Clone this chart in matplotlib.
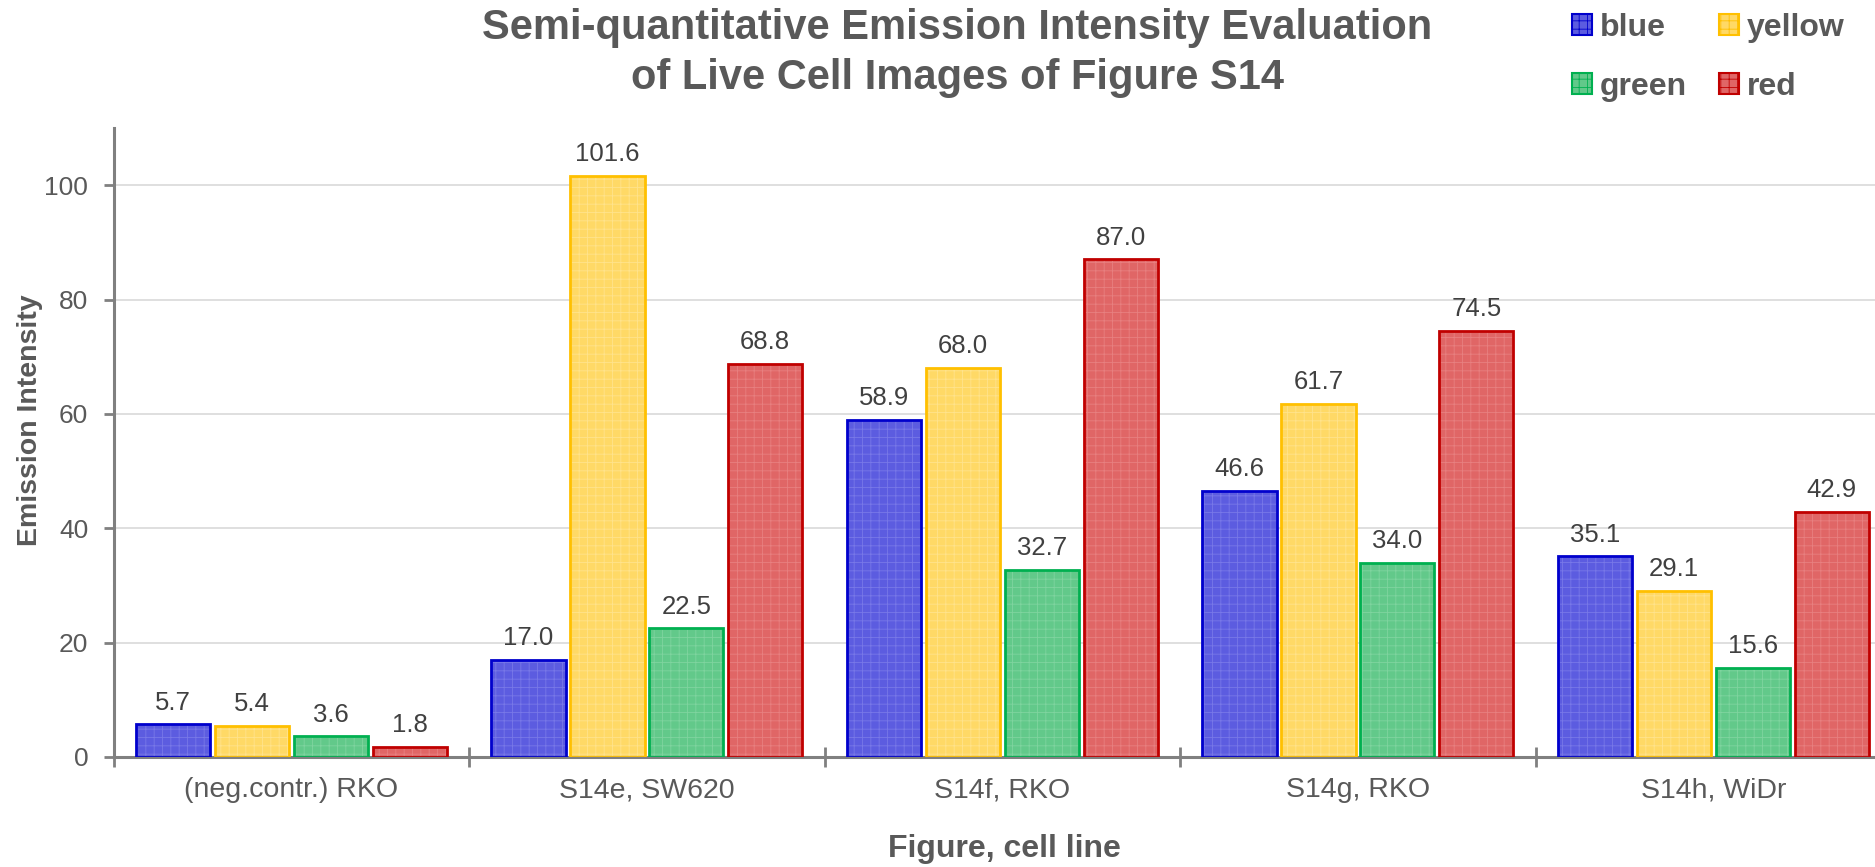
import matplotlib
matplotlib.use("Agg")
import matplotlib.pyplot as plt
import numpy as np
from matplotlib.patches import Patch

plt.rcParams['font.family'] = ['Liberation Sans', 'DejaVu Sans']
plt.rcParams['hatch.linewidth'] = 0.6

categories = ["(neg.contr.) RKO", "S14e, SW620", "S14f, RKO", "S14g, RKO", "S14h, WiDr"]
series_names = ["blue", "yellow", "green", "red"]
blue = [5.7, 17.0, 58.9, 46.6, 35.1]
yellow = [5.4, 101.6, 68.0, 61.7, 29.1]
green = [3.6, 22.5, 32.7, 34.0, 15.6]
red = [1.8, 68.8, 87.0, 74.5, 42.9]
series_values = [blue, yellow, green, red]
yticks = [0, 20, 40, 60, 80, 100]

face_colors = ["#5C5CE0", "#FFD966", "#62C98A", "#E06666"]
hatch_colors = ["#7878E8", "#FFE38C", "#7FD49F", "#E88080"]
edge_colors = ["#0000CC", "#FFC000", "#00B050", "#C00000"]
text_color = "#595959"

fig = plt.figure(figsize=(18.75, 8.67), dpi=100)
ax = fig.add_axes([0.0606, 0.1269, 0.948, 0.7255])

x = np.arange(len(categories))
stride = 0.222
width = 0.209
for i, (name, vals) in enumerate(zip(series_names, series_values)):
    pos = x + (i - 1.5) * stride
    ax.bar(pos, vals, width, color=face_colors[i], edgecolor=hatch_colors[i],
           hatch="++", linewidth=0, zorder=2)
    ax.bar(pos, vals, width, fill=False, edgecolor=edge_colors[i],
           linewidth=2.0, zorder=3)
    for p, v in zip(pos, vals):
        ax.annotate(f"{v:.1f}", (p, v), xytext=(0, 7), textcoords="offset points",
                    ha="center", va="bottom", fontsize=18.5, color="#404040")

ax.set_xlim(-0.5, len(categories) - 0.5)
ax.set_ylim(0, 110)
ax.set_yticks(yticks)
ax.yaxis.grid(True, color="#D9D9D9", linewidth=1.2, zorder=0)
ax.set_axisbelow(True)

for s in ["top", "right"]:
    ax.spines[s].set_visible(False)
for s in ["left", "bottom"]:
    ax.spines[s].set_color("#808080")
    ax.spines[s].set_linewidth(2.2)

ax.set_xticks(x)
ax.set_xticklabels(categories)
ax.set_xticks(np.arange(len(categories) + 1) - 0.5, minor=True)
ax.tick_params(axis="x", which="major", length=0, pad=14.5, labelsize=20.5, labelcolor=text_color)
ax.tick_params(axis="x", which="minor", length=14, width=2, direction="inout", color="#808080")
ax.tick_params(axis="y", which="major", length=7.2, width=2, color="#808080", labelsize=19,
               labelcolor=text_color, pad=11)

ax.set_ylabel("Emission Intensity", fontsize=20.5, fontweight="bold", color=text_color, va="center")
ax.yaxis.set_label_coords(-0.047, 0.536)
ax.set_xlabel("Figure, cell line", fontsize=23, fontweight="bold", color=text_color, va="center")
ax.xaxis.set_label_coords(0.501, -0.146)

fig.text(0.5105, 1 - 39 / 867, "Semi-quantitative Emission Intensity Evaluation",
         ha="center", va="baseline", fontsize=30, fontweight="bold", color=text_color)
fig.text(0.5105, 1 - 89 / 867, "of Live Cell Images of Figure S14",
         ha="center", va="baseline", fontsize=30, fontweight="bold", color=text_color)

handles = [Patch(facecolor=face_colors[i], edgecolor=edge_colors[i], hatch="++", linewidth=1.5)
           for i in range(4)]
leg = fig.legend([handles[0], handles[2], handles[1], handles[3]],
                 [series_names[0], series_names[2], series_names[1], series_names[3]],
                 ncol=2, loc="upper left", bbox_to_anchor=(1572 / 1875, 1 - 13 / 867), frameon=False,
                 prop={"size": 23, "weight": "bold"}, handlelength=0.62, handleheight=0.62,
                 handletextpad=0.25, columnspacing=1.0, labelspacing=0.9, borderpad=0,
                 borderaxespad=0)
for t in leg.get_texts():
    t.set_color(text_color)

fig.savefig("out.png", dpi=100)
